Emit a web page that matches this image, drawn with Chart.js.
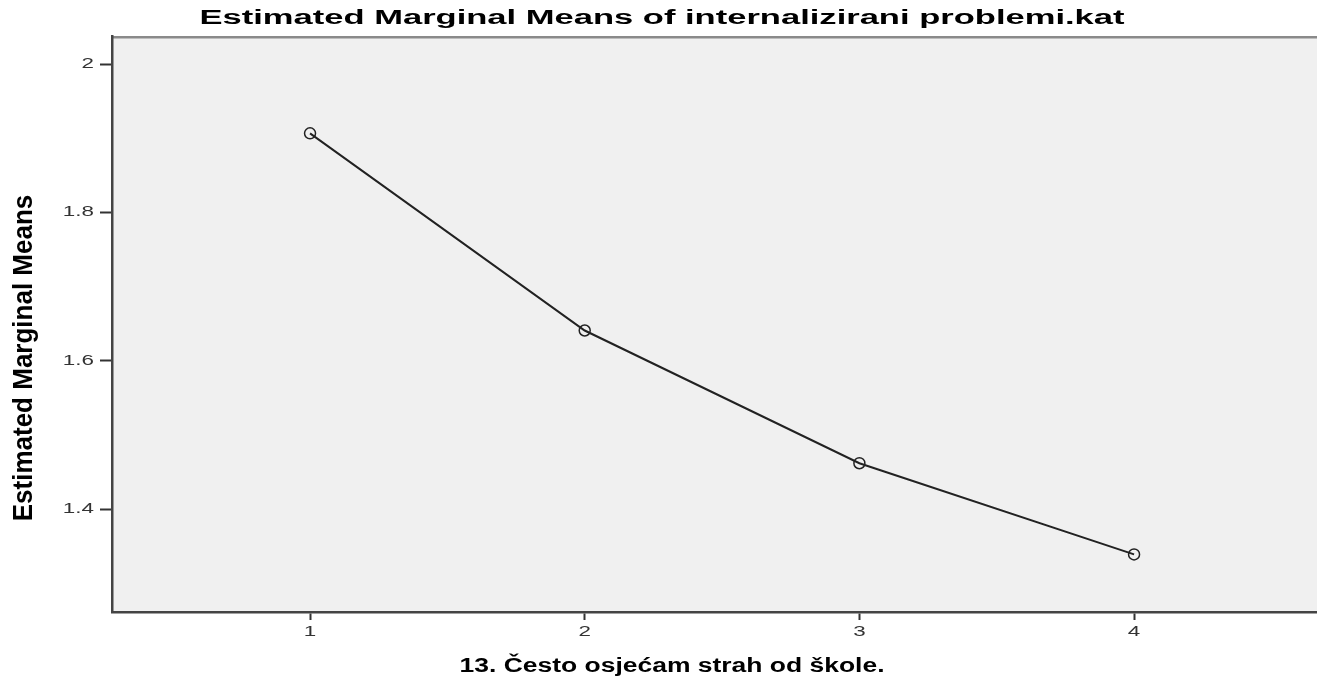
<!DOCTYPE html>
<html>
<head>
<meta charset="utf-8">
<script src="https://cdn.jsdelivr.net/npm/chart.js@4.4.1/dist/chart.umd.min.js"></script>
<style>
html,body{margin:0;padding:0;background:#ffffff;}
#wrap{width:1317px;height:678px;position:relative;}
</style>
</head>
<body>
<div id="wrap"><canvas id="c" width="1317" height="678"></canvas></div>
<script>
// ---- data ----
const chartTitle = 'Estimated Marginal Means of internalizirani problemi.kat';
const xAxisTitle = '13. Često osjećam strah od škole.';
const yAxisTitle = 'Estimated Marginal Means';
const categories = [1, 2, 3, 4];
const meanValues = [1.907, 1.641, 1.462, 1.339];
const xTickValues = [1, 2, 3, 4];
const xTickLabels = ['1', '2', '3', '4'];
const yTickValues = [1.4, 1.6, 1.8, 2.0];
const yTickLabels = ['1.4', '1.6', '1.8', '2'];
const xRange = [0.279, 4.666];
const yRange = [1.2613, 2.038];

// ---- styles ----
const FAM = '"Liberation Sans", Arial, Helvetica, sans-serif';
const titleFont = {family: FAM, size: 20, weight: 'bold'};
const xTitleFont = {family: FAM, size: 20, weight: 'bold'};
const yTitleFont = {family: FAM, size: 26, weight: 'bold'};
const tickFont = {family: FAM, size: 14};
const fontStr = f => `${f.weight || 'normal'} ${f.size}px ${f.family}`;

const mainTitleTarget = {cx: 662, width: 925};
const xTitleTarget = {cx: 672, width: 425};
const yTitleTarget = {cy: 358, thickness: 1.05};
const tickStretch = 1.6;

function stretchedText(scale, fn, args) {
  const c = scale.ctx;
  const origFill = c.fillText;
  c.fillText = function (t, x, y) {
    this.save();
    this.translate(x, y);
    this.scale(tickStretch, 1);
    origFill.call(this, t, 0, 0);
    this.restore();
  };
  try { fn.apply(scale, args); } finally { c.fillText = origFill; }
}

const frameBg = {
  id: 'frameBg',
  beforeDraw(chart) {
    const {ctx, chartArea: a} = chart;
    ctx.save();
    ctx.fillStyle = '#f0f0f0';
    ctx.fillRect(a.left, a.top, a.right - a.left, a.bottom - a.top);
    ctx.strokeStyle = '#8a8a8a';
    ctx.lineWidth = 2.5;
    ctx.beginPath();
    ctx.moveTo(a.left, a.top + 1);
    ctx.lineTo(a.right, a.top + 1);
    ctx.stroke();
    ctx.restore();

    const tb = chart.titleBlock;
    if (tb && !tb._wrapped) {
      const orig = tb.draw;
      tb.draw = function () {
        const c = this.ctx;
        c.save();
        c.font = fontStr(titleFont);
        const sx = mainTitleTarget.width / c.measureText(chartTitle).width;
        const ocx = (this.left + this.right) / 2;
        c.translate(mainTitleTarget.cx, 0);
        c.scale(sx, 1);
        c.translate(-ocx, 0);
        orig.apply(this, arguments);
        c.restore();
      };
      tb._wrapped = true;
    }
    const xs = chart.scales.x, ys = chart.scales.y;
    if (xs && !xs._wrapped) {
      const origT = xs.drawTitle;
      xs.drawTitle = function () {
        const c = this.ctx;
        c.save();
        c.font = fontStr(xTitleFont);
        const sx = xTitleTarget.width / c.measureText(xAxisTitle).width;
        const ocx = (this.left + this.right) / 2;
        c.translate(xTitleTarget.cx, 0);
        c.scale(sx, 1);
        c.translate(-ocx, 0);
        origT.apply(this, arguments);
        c.restore();
      };
      const origL = xs.drawLabels;
      xs.drawLabels = function () { stretchedText(this, origL, arguments); };
      xs._wrapped = true;
    }
    if (ys && !ys._wrapped) {
      const origT = ys.drawTitle;
      ys.drawTitle = function () {
        const c = this.ctx;
        const o = this.options.title;
        const lh = o.font.size * 1.2;
        const tx = this.left + o.padding.top + lh / 2;
        const dy = yTitleTarget.cy - (this.top + this.bottom) / 2;
        c.save();
        c.translate(tx, dy);
        c.scale(yTitleTarget.thickness, 1);
        c.translate(-tx, 0);
        origT.apply(this, arguments);
        c.restore();
      };
      const origL = ys.drawLabels;
      ys.drawLabels = function () { stretchedText(this, origL, arguments); };
      ys._wrapped = true;
    }
  }
};

new Chart(document.getElementById('c'), {
  type: 'line',
  data: {
    datasets: [{
      data: categories.map((c, i) => ({x: c, y: meanValues[i]})),
      borderColor: '#222222',
      borderWidth: 2,
      fill: false,
      tension: 0,
      pointStyle: 'circle',
      pointRadius: 5.5,
      pointBorderWidth: 1.5,
      pointBorderColor: '#222222',
      pointBackgroundColor: 'rgba(0,0,0,0)'
    }]
  },
  options: {
    responsive: false,
    animation: false,
    layout: {padding: 0, autoPadding: false},
    plugins: {
      legend: {display: false},
      tooltip: {enabled: false},
      title: {
        display: true,
        text: chartTitle,
        color: '#000',
        font: titleFont,
        padding: {top: 6, bottom: 6.2}
      }
    },
    scales: {
      x: {
        type: 'linear',
        min: xRange[0],
        max: xRange[1],
        afterBuildTicks: s => { s.ticks = xTickValues.map(v => ({value: v})); },
        afterFit: s => { s.height = 66; s.paddingLeft = 0; s.paddingRight = 0; },
        ticks: {
          callback: (v, i) => xTickLabels[i],
          font: tickFont,
          color: '#333',
          padding: 4,
          maxRotation: 0,
          autoSkip: false
        },
        grid: {display: true, drawOnChartArea: false, drawTicks: true, tickLength: 8, tickWidth: 2, tickColor: '#333'},
        border: {display: true, color: '#444', width: 2.5},
        title: {display: true, text: xAxisTitle, color: '#000', font: xTitleFont, padding: {top: 0, bottom: 0}}
      },
      y: {
        type: 'linear',
        min: yRange[0],
        max: yRange[1],
        afterBuildTicks: s => { s.ticks = yTickValues.map(v => ({value: v})); },
        afterFit: s => { s.width = 112; s.paddingTop = 0; s.paddingBottom = 0; },
        ticks: {
          callback: (v, i) => yTickLabels[i],
          font: tickFont,
          color: '#333',
          padding: 6,
          autoSkip: false
        },
        grid: {display: true, drawOnChartArea: false, drawTicks: true, tickLength: 12, tickWidth: 2, tickColor: '#333'},
        border: {display: true, color: '#444', width: 2.5},
        title: {display: true, text: yAxisTitle, color: '#000', font: yTitleFont, padding: {top: 8.4, bottom: 0}}
      }
    }
  },
  plugins: [frameBg]
});
</script>
</body>
</html>
